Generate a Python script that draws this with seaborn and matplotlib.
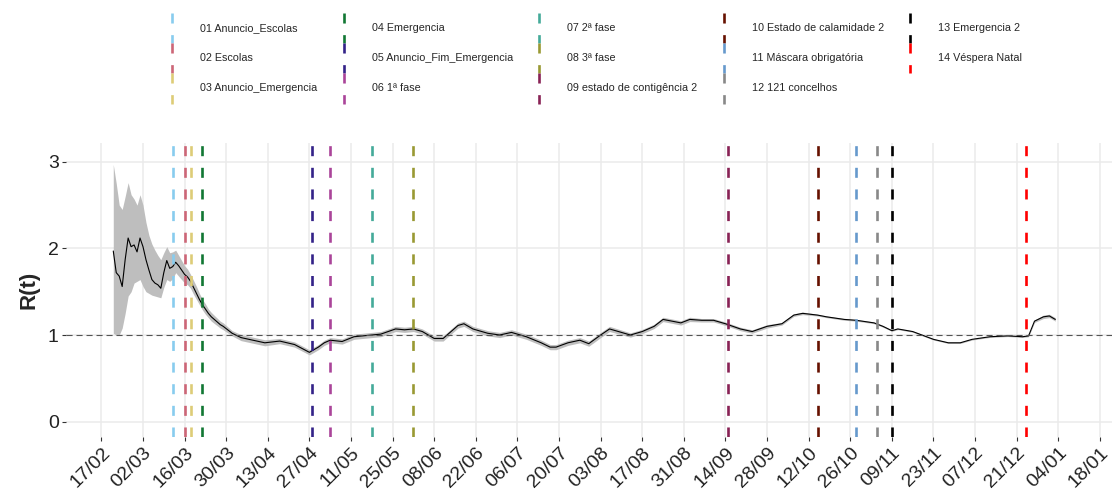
import pandas as pd
import seaborn as sns
import matplotlib.pyplot as plt
import matplotlib.dates as mdates
from matplotlib.lines import Line2D
from matplotlib.legend_handler import HandlerBase

# R(t) estimate with its confidence band
r_dates = [
    "2020-02-21", "2020-02-22", "2020-02-23", "2020-02-24", "2020-02-25", "2020-02-26",
    "2020-02-27", "2020-02-28", "2020-02-29", "2020-03-01", "2020-03-02", "2020-03-03",
    "2020-03-04", "2020-03-05", "2020-03-06", "2020-03-07", "2020-03-08", "2020-03-09",
    "2020-03-10", "2020-03-11", "2020-03-12", "2020-03-13", "2020-03-14", "2020-03-15",
    "2020-03-16", "2020-03-17", "2020-03-18", "2020-03-19", "2020-03-20", "2020-03-21",
    "2020-03-22", "2020-03-23", "2020-03-24", "2020-03-25", "2020-03-28", "2020-03-29",
    "2020-04-01", "2020-04-04", "2020-04-08", "2020-04-12", "2020-04-17", "2020-04-22",
    "2020-04-27", "2020-04-30", "2020-05-02", "2020-05-04", "2020-05-08", "2020-05-12",
    "2020-05-18", "2020-05-21", "2020-05-26", "2020-05-29", "2020-06-01", "2020-06-04",
    "2020-06-08", "2020-06-11", "2020-06-16", "2020-06-18", "2020-06-21", "2020-06-26",
    "2020-06-30", "2020-07-04", "2020-07-09", "2020-07-14", "2020-07-17", "2020-07-19",
    "2020-07-23", "2020-07-27", "2020-07-30", "2020-08-03", "2020-08-06", "2020-08-13",
    "2020-08-17", "2020-08-21", "2020-08-24", "2020-08-30", "2020-09-02", "2020-09-06",
    "2020-09-10", "2020-09-14", "2020-09-19", "2020-09-23", "2020-09-28", "2020-10-03",
    "2020-10-07", "2020-10-10", "2020-10-15", "2020-10-18", "2020-10-24", "2020-10-28",
    "2020-11-03", "2020-11-06", "2020-11-09", "2020-11-11", "2020-11-16", "2020-11-23",
    "2020-11-28", "2020-12-02", "2020-12-06", "2020-12-12", "2020-12-18", "2020-12-23",
    "2020-12-25", "2020-12-27", "2020-12-30", "2021-01-01", "2021-01-03",
]
r_mean = [
    1.97, 1.72, 1.68, 1.56, 1.87, 2.12, 2.02, 2.04, 1.96, 2.12, 2.02, 1.87,
    1.75, 1.64, 1.60, 1.58, 1.54, 1.72, 1.86, 1.77, 1.79, 1.84, 1.80, 1.75,
    1.70, 1.67, 1.62, 1.55, 1.48, 1.41, 1.35, 1.30, 1.25, 1.21, 1.12, 1.10,
    1.02, 0.97, 0.94, 0.91, 0.93, 0.89, 0.80, 0.86, 0.91, 0.94, 0.925, 0.98,
    1.00, 1.01, 1.07, 1.06, 1.07, 1.04, 0.96, 0.96, 1.11, 1.13, 1.07, 1.02,
    1.00, 1.03, 0.98, 0.91, 0.86, 0.86, 0.91, 0.94, 0.90, 1.00, 1.07, 1.00,
    1.04, 1.10, 1.18, 1.14, 1.18, 1.17, 1.17, 1.13, 1.07, 1.04, 1.10, 1.13,
    1.23, 1.25, 1.23, 1.21, 1.18, 1.17, 1.14, 1.10, 1.05, 1.07, 1.04, 0.95,
    0.91, 0.91, 0.95, 0.98, 0.99, 0.98, 0.99, 1.16, 1.21, 1.22, 1.18,
]
r_low = [
    1.02, 1.00, 1.00, 1.08, 1.25, 1.45, 1.50, 1.60, 1.62, 1.64, 1.56, 1.50,
    1.48, 1.46, 1.45, 1.44, 1.43, 1.55, 1.64, 1.62, 1.65, 1.72, 1.68, 1.64,
    1.60, 1.58, 1.54, 1.47, 1.41, 1.35, 1.29, 1.24, 1.20, 1.16, 1.08, 1.06,
    0.99, 0.935, 0.905, 0.875, 0.90, 0.86, 0.77, 0.83, 0.88, 0.91, 0.895, 0.95,
    0.97, 0.98, 1.04, 1.03, 1.04, 1.01, 0.93, 0.93, 1.08, 1.10, 1.04, 0.99,
    0.97, 1.00, 0.95, 0.88, 0.83, 0.83, 0.88, 0.91, 0.87, 0.97, 1.04, 0.975,
    1.015, 1.075, 1.155, 1.115, 1.155, 1.15, 1.15, 1.11, 1.05, 1.02, 1.08, 1.115,
    1.215, 1.235, 1.22, 1.20, 1.17, 1.16, 1.13, 1.09, 1.042, 1.062, 1.032, 0.942,
    0.902, 0.902, 0.942, 0.972, 0.982, 0.972, 0.98, 1.145, 1.19, 1.20, 1.16,
]
r_high = [
    2.97, 2.75, 2.50, 2.45, 2.60, 2.76, 2.62, 2.57, 2.50, 2.62, 2.50, 2.30,
    2.15, 2.05, 1.98, 1.92, 1.87, 1.95, 2.02, 1.95, 1.96, 1.98, 1.92, 1.86,
    1.80, 1.76, 1.70, 1.63, 1.56, 1.48, 1.41, 1.36, 1.30, 1.26, 1.16, 1.14,
    1.05, 1.005, 0.975, 0.945, 0.96, 0.92, 0.83, 0.89, 0.94, 0.97, 0.955, 1.01,
    1.03, 1.04, 1.10, 1.09, 1.10, 1.07, 0.99, 0.99, 1.14, 1.16, 1.10, 1.05,
    1.03, 1.06, 1.01, 0.94, 0.89, 0.89, 0.94, 0.97, 0.93, 1.03, 1.10, 1.025,
    1.065, 1.125, 1.205, 1.165, 1.205, 1.19, 1.19, 1.15, 1.09, 1.06, 1.12, 1.145,
    1.245, 1.265, 1.24, 1.22, 1.19, 1.18, 1.15, 1.11, 1.058, 1.078, 1.048, 0.958,
    0.918, 0.918, 0.958, 0.988, 0.998, 0.988, 1.00, 1.175, 1.23, 1.24, 1.20,
]

# policy events shown as dashed vertical lines
event_labels = [
    "01 Anuncio_Escolas", "02 Escolas", "03 Anuncio_Emergencia", "04 Emergencia",
    "05 Anuncio_Fim_Emergencia", "06 1ª fase", "07 2ª fase", "08 3ª fase",
    "09 estado de contigência 2", "10 Estado de calamidade 2", "11 Máscara obrigatória",
    "12 121 concelhos", "13 Emergencia 2", "14 Véspera Natal",
]
event_dates = [
    "2020-03-12", "2020-03-16", "2020-03-18", "2020-03-22", "2020-04-28", "2020-05-04",
    "2020-05-18", "2020-06-01", "2020-09-15", "2020-10-15", "2020-10-28", "2020-11-04",
    "2020-11-09", "2020-12-24",
]
event_colors = [
    "#88CCEE", "#CC6677", "#DDCC77", "#117733", "#332288", "#AA4499", "#44AA99",
    "#999933", "#882255", "#661100", "#6699CC", "#888888", "#000000", "#FF0000",
]

df = pd.DataFrame({"date": pd.to_datetime(r_dates), "r": r_mean, "lo": r_low, "hi": r_high})

sns.set_style("white")
plt.rcParams["font.family"] = ["Liberation Sans", "DejaVu Sans"]


class VLineHandler(HandlerBase):
    # legend key drawn as a vertical dashed line, like the vlines in the plot
    def create_artists(self, legend, orig_handle, xdescent, ydescent, width, height, fontsize, trans):
        x = width / 2 - xdescent
        ln = Line2D([x, x], [height - ydescent, -ydescent])
        ln.update_from(orig_handle)
        ln.set_transform(trans)
        return [ln]


fig, ax = plt.subplots(figsize=(11.14, 4.94), dpi=100)
fig.subplots_adjust(left=0.059, right=0.998, top=0.711, bottom=0.115)

ax.fill_between(df["date"], df["lo"], df["hi"], color="#BEBEBE", lw=0, zorder=2)
sns.lineplot(data=df, x="date", y="r", color="black", lw=0.8, ax=ax, zorder=3)
ax.axhline(1, color="#555555", lw=0.8, ls=(0, (5.5, 3.5)), zorder=4)

dash = (0, (3.8, 4.4))
handles = []
for d, c in zip(event_dates, event_colors):
    ax.axvline(pd.Timestamp(d), color=c, lw=1.9, ls=dash, zorder=5)
    handles.append(Line2D([], [], color=c, lw=1.9, ls=dash))

ax.set_xlim(pd.Timestamp("2020-02-05"), pd.Timestamp("2021-01-22"))
ax.set_ylim(-0.18, 3.22)
ax.set_yticks([0, 1, 2, 3])
ax.set_xticks(pd.date_range("2020-02-17", "2021-01-18", freq="14D"))
ax.xaxis.set_major_formatter(mdates.DateFormatter("%d/%m"))

ax.grid(True, color="#EBEBEB", lw=1.1)
ax.set_axisbelow(True)
sns.despine(ax=ax, left=True, bottom=True)
ax.tick_params(axis="both", bottom=True, left=True, length=3, width=0.8,
               color="#333333", labelsize=14, labelcolor="#222222", pad=2)
for lab in ax.get_xticklabels():
    lab.set_rotation(45)
    lab.set_ha("right")
    lab.set_va("top")
    lab.set_rotation_mode("anchor")

ax.set_xlabel("")
ax.set_ylabel("R(t)", fontsize=16, fontweight="bold", labelpad=6)

fig.legend(handles, event_labels, loc="upper left", bbox_to_anchor=(0.1495, 0.974),
           ncol=5, frameon=False, fontsize=7.75, handlelength=1.0, handleheight=3.95,
           handletextpad=2.1, labelspacing=0, columnspacing=1.95, borderpad=0,
           borderaxespad=0, handler_map={Line2D: VLineHandler()})

fig.savefig("out.png", dpi=100)
